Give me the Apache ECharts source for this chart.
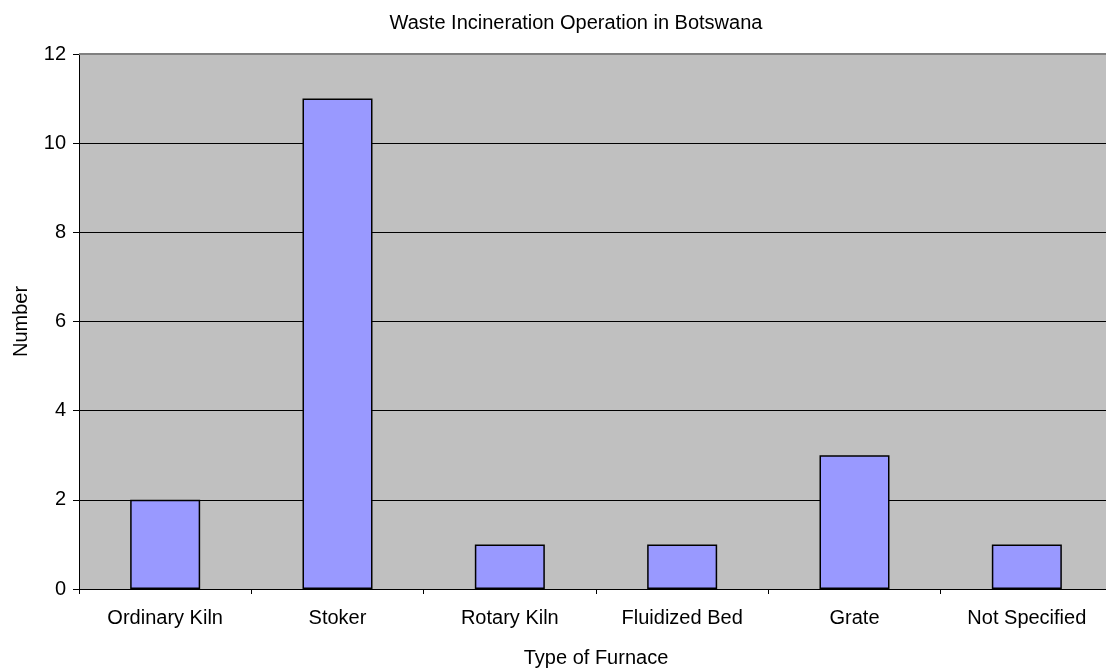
<!DOCTYPE html>
<html>
<head>
<meta charset="utf-8">
<script src="https://cdn.jsdelivr.net/npm/echarts@6/dist/echarts.min.js"></script>
<style>
html,body{margin:0;padding:0;background:#fff;}
#chart{width:1106px;height:671px;}
</style>
</head>
<body>
<div id="chart"></div>
<script>
const titleText = 'Waste Incineration Operation in Botswana';
const categories = ['Ordinary Kiln', 'Stoker', 'Rotary Kiln', 'Fluidized Bed', 'Grate', 'Not Specified'];
const values = [2, 11, 1, 1, 3, 1];
const xAxisName = 'Type of Furnace';
const yAxisName = 'Number';
const yTicks = [0, 2, 4, 6, 8, 10, 12];

const FONT = "'Liberation Sans', Arial, sans-serif";
const chart = echarts.init(document.getElementById('chart'), null, {renderer: 'canvas'});
chart.setOption({
  animation: false,
  backgroundColor: '#ffffff',
  title: {
    text: titleText,
    left: 571, top: 8,
    textAlign: 'center',
    textStyle: {fontFamily: FONT, fontSize: 20, fontWeight: 'normal', color: '#000'}
  },
  grid: {
    left: 79, top: 54, width: 1034, height: 535,
    outerBoundsMode: 'none',
    containLabel: false,
    show: true, backgroundColor: '#C0C0C0', borderWidth: 0
  },
  xAxis: {
    type: 'category',
    data: categories,
    name: xAxisName,
    nameLocation: 'middle',
    nameGap: 59,
    nameTextStyle: {fontFamily: FONT, fontSize: 20, color: '#000'},
    axisLine: {show: true, lineStyle: {color: '#000', width: 1}},
    axisTick: {show: true, alignWithLabel: false, length: 5, lineStyle: {color: '#000'}},
    axisLabel: {fontFamily: FONT, fontSize: 20, color: '#000', margin: 19, interval: 0}
  },
  yAxis: {
    type: 'value',
    min: yTicks[0], max: yTicks[yTicks.length - 1], interval: 2,
    name: yAxisName,
    nameLocation: 'middle',
    nameGap: 48,
    nameRotate: 90,
    nameTextStyle: {fontFamily: FONT, fontSize: 20, color: '#000'},
    axisLine: {show: true, lineStyle: {color: '#000', width: 1}},
    axisTick: {show: true, length: 6, lineStyle: {color: '#000'}},
    axisLabel: {fontFamily: FONT, fontSize: 20, color: '#000', margin: 13},
    splitLine: {show: true, lineStyle: {color: ['#000', '#000', '#000', '#000', '#000', '#000', '#808080'], width: 1}}
  },
  series: [{
    type: 'bar',
    data: values,
    barWidth: 70,
    itemStyle: {color: '#9999FF', borderColor: '#000', borderWidth: 1.5}
  }],
  graphic: [{
    type: 'line',
    shape: {x1: 79, y1: 54, x2: 1106, y2: 54},
    style: {stroke: '#808080', lineWidth: 2},
    z: 100
  }]
});
</script>
</body>
</html>
